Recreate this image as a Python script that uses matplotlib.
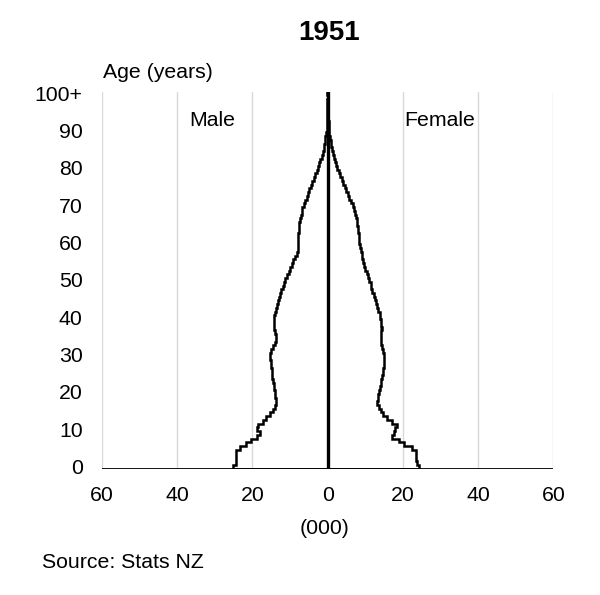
import numpy as np
import matplotlib
matplotlib.use("Agg")
import matplotlib.pyplot as plt

plt.rcParams['font.family'] = ['Liberation Sans', 'DejaVu Sans']

# population by single year of age, 0 .. 100+ (thousands)
ages = np.arange(0, 101)
male = [25.3, 24.5, 24.5, 24.5, 24.4, 23.3, 21.8, 20.4, 18.9, 17.9,
        18.8, 18.4, 17.3, 16.3, 15.4, 14.6, 14.1, 13.8, 13.8, 13.9,
        14.0, 14.2, 14.3, 14.5, 14.7, 14.8, 14.9, 15.0, 15.1, 15.2,
        15.2, 15.0, 14.6, 14.1, 13.8, 13.8, 14.0, 14.2, 14.3, 14.3,
        14.3, 14.0, 13.7, 13.5, 13.2, 12.9, 12.6, 12.3, 12.0, 11.7,
        11.3, 10.9, 10.4, 9.9, 9.6, 9.2, 8.6, 8.2, 8.0, 7.9,
        7.8, 7.8, 7.8, 7.7, 7.6, 7.5, 7.4, 7.2, 6.9, 6.7,
        6.4, 6.0, 5.6, 5.3, 4.9, 4.5, 4.1, 3.6, 3.3, 2.9,
        2.6, 2.3, 2.0, 1.6, 1.3, 1.1, 0.9, 0.7, 0.6, 0.45,
        0.3, 0.25, 0.2, 0.15, 0.12, 0.1, 0.08, 0.06, 0.05, 0.04,
        0.05]
female = [24.2, 23.7, 23.6, 23.5, 23.5, 22.4, 20.3, 18.9, 17.2, 17.6,
          18.0, 18.4, 17.1, 15.8, 14.8, 14.1, 13.6, 13.2, 13.3, 13.5,
          13.7, 13.9, 14.1, 14.3, 14.5, 14.7, 14.8, 14.9, 15.0, 15.0,
          15.0, 14.8, 14.5, 14.3, 14.1, 14.1, 14.3, 14.4, 14.3, 14.1,
          14.0, 13.8, 13.5, 13.2, 12.9, 12.6, 12.2, 11.9, 11.6, 11.4,
          11.1, 10.7, 10.4, 10.0, 9.7, 9.4, 9.2, 9.0, 8.8, 8.6,
          8.4, 8.3, 8.2, 8.1, 8.0, 7.9, 7.8, 7.6, 7.3, 7.0,
          6.7, 6.3, 5.8, 5.4, 5.0, 4.6, 4.2, 3.8, 3.4, 3.0,
          2.6, 2.3, 2.0, 1.7, 1.5, 1.2, 1.0, 0.8, 0.6, 0.45,
          0.35, 0.3, 0.25, 0.2, 0.15, 0.12, 0.1, 0.07, 0.05, 0.04,
          0.06]
ytick_vals = [0, 10, 20, 30, 40, 50, 60, 70, 80, 90, 100]
ytick_labels = ['0', '10', '20', '30', '40', '50', '60', '70', '80', '90', '100+']
xtick_vals = [-60, -40, -20, 0, 20, 40, 60]

fs = 15.3

fig = plt.figure(figsize=(6, 5.95), dpi=100)
ax = fig.add_axes([0.17, 0.2126, 0.7522, 0.6333])

edges = np.append(ages - 0.5, ages[-1] + 0.5)
for x in xtick_vals:
    if x != 0:
        ax.axvline(x, color='#d9d9d9', lw=1, zorder=0)
ax.axhline(-0.5, color='black', lw=1.3, zorder=1)

ax.stairs(-np.array(male), edges, orientation='horizontal', baseline=0,
          color='black', lw=1.8, zorder=3)
ax.stairs(np.array(female), edges, orientation='horizontal', baseline=0,
          color='black', lw=1.8, zorder=3)
ax.axvline(0, color='black', lw=2.4, zorder=4)

ax.set_xlim(-60, 60)
ax.set_ylim(-0.5, 100.4)
ax.set_xticks(xtick_vals)
ax.set_xticklabels([str(abs(v)) for v in xtick_vals])
ax.set_yticks(ytick_vals)
ax.set_yticklabels(ytick_labels)
ax.tick_params(axis='both', length=0, labelsize=fs)
ax.tick_params(axis='y', pad=14)
ax.tick_params(axis='x', pad=12.5)
for s in ax.spines.values():
    s.set_visible(False)

ax.text(-30.6, 92.6, 'Male', ha='center', va='center', fontsize=fs)
ax.text(29.7, 92.6, 'Female', ha='center', va='center', fontsize=fs)

fig.text(329 / 600, 1 - 33.3 / 595, '1951', ha='center', va='center',
         fontsize=20, fontweight='bold')
fig.text(103 / 600, 1 - 73 / 595, 'Age (years)', ha='left', va='center', fontsize=fs)
fig.text(325 / 600, 1 - 528 / 595, '(000)', ha='center', va='center', fontsize=fs)
fig.text(41.7 / 600, 1 - 563 / 595, 'Source: Stats NZ', ha='left', va='center', fontsize=fs)

fig.savefig('out.png', dpi=100)
